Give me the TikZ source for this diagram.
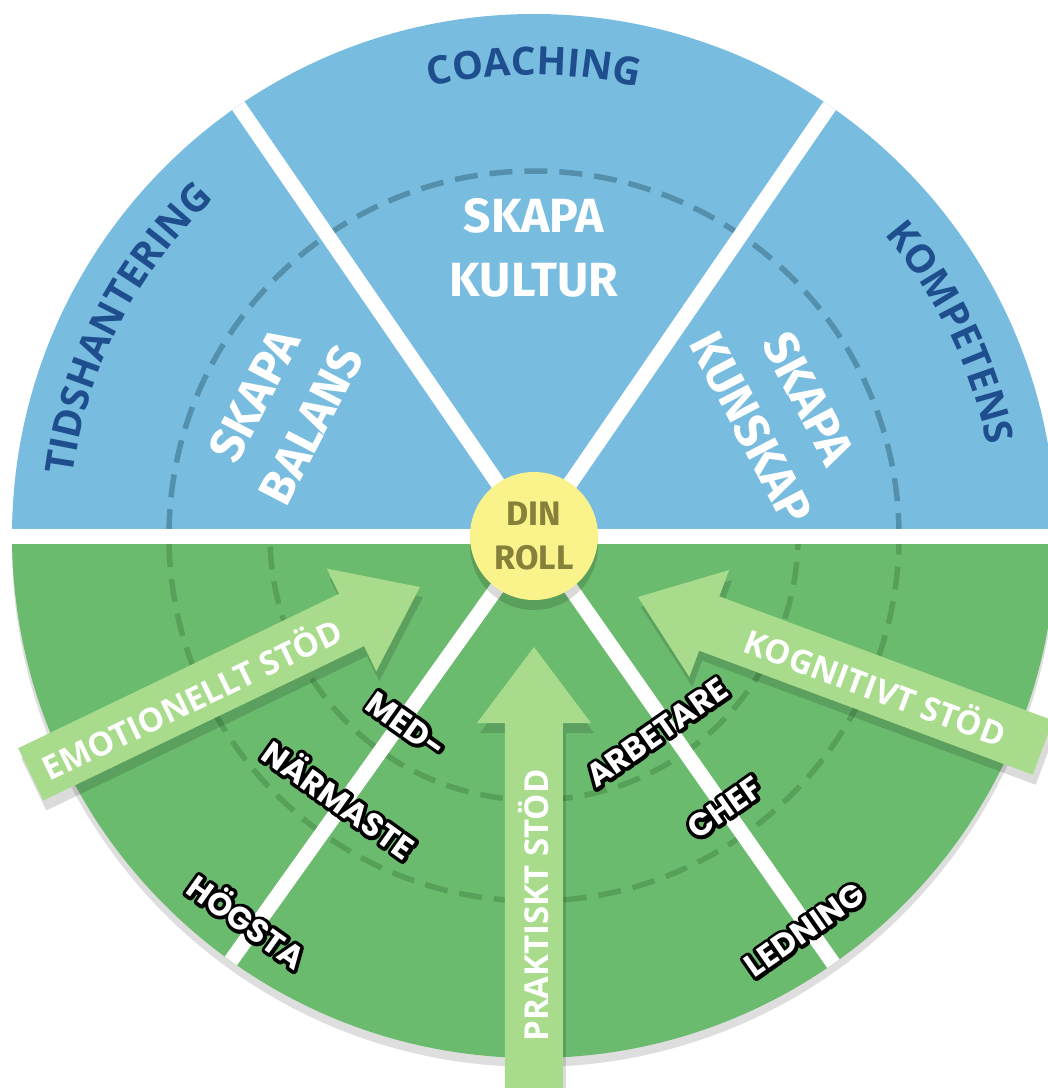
\documentclass[tikz,border=0pt]{standalone}
\usepackage{fontspec}
\usetikzlibrary{decorations.text,calc}
\newfontfamily\osans{Open Sans}
\newfontfamily\fsans{Fira Sans}
\newfontfamily\psans{Poppins}
% the same face, thickened by a stroke, gives the dark rim behind the labels
\newfontfamily\psansink{Poppins}[BoldFeatures={FakeBold=22}]

\definecolor{wheelblue}{RGB}{120,189,223}
\definecolor{wheelgreen}{RGB}{107,187,110}
\definecolor{arrowgreen}{RGB}{168,220,140}
\definecolor{navy}{RGB}{31,78,142}
\definecolor{hubyellow}{RGB}{250,243,140}
\definecolor{hubtext}{RGB}{133,128,58}
\definecolor{dashblue}{RGB}{84,144,172}
\definecolor{dashgreen}{RGB}{86,160,90}

\tikzset{
  divider/.style={white, line width=15pt},
  ringdash/.style={line width=5.5pt, dash pattern=on 23pt off 12pt},
  arrowbody/.style={fill=arrowgreen},
  arrowshade/.style={fill=black, fill opacity=0.14},
  arrowtext/.style={text=white, inner sep=0pt,
    font=\osans\bfseries\fontsize{33}{33}\selectfont},
  rolefont/.style={inner sep=0pt, text=white,
    font=\psans\bfseries\fontsize{32}{32}\selectfont},
  roleink/.style={inner sep=0pt, text=black, line join=round,
    font=\psansink\bfseries\fontsize{32}{32}\selectfont},
  skapa/.style={text=white, align=center, inner sep=0pt,
    font=\fsans\bfseries\fontsize{48}{64}\selectfont},
  rimtext/.style={decorate, decoration={text along path, text align=center,
    text color=navy, text={|\osans\bfseries\fontsize{39}{39}\selectfont|#1}}}
}

% broad support arrow: name, tip, direction, length, text rotation, text
\newcommand\supportarrow[6]{%
  \begin{scope}[shift={(#2)}, shift={(3,-10)}, rotate=#3]
    \fill[arrowshade] (0,0) -- (-76,57) -- (-76,29) -- (-#4,29) -- (-#4,-29)
      -- (-76,-29) -- (-76,-57) -- cycle;
  \end{scope}
  \begin{scope}[shift={(#2)}, rotate=#3]
    \fill[arrowbody] (0,0) -- (-76,57) -- (-76,29) -- (-#4,29) -- (-#4,-29)
      -- (-76,-29) -- (-76,-57) -- cycle;
    \node[arrowtext, rotate=#5] (#1) at ({-(76+#4)/2},0) {#6};
  \end{scope}
}

% white label on a dark rim: name, position, rotation, text
\newcommand\rolelabel[4]{%
  \node[roleink, rotate=#3] (#1-rim) at (#2) {#4};
  \node[rolefont, rotate=#3] (#1) at (#2) {#4};
}

\begin{document}
\begin{tikzpicture}[x=1pt,y=1pt]
\useasboundingbox (-534,-552) rectangle (514,536);
\coordinate (hubc) at (0,0);

% wheel with its soft drop shadow
\fill[black, opacity=0.13] (0,-9) circle[radius=522];
\fill[wheelgreen] (-522,0) arc[start angle=180, end angle=360, radius=522] -- cycle;
\fill[wheelblue] (522,0) arc[start angle=0, end angle=180, radius=522] -- cycle;

% dashed rings
\begin{scope}
  \clip (-530,0) rectangle (530,530);
  \draw[ringdash, dashblue] (hubc) circle[radius=365];
\end{scope}
\begin{scope}
  \clip (-530,0) rectangle (530,-530);
  \draw[ringdash, dashgreen] (hubc) circle[radius=365];
  \draw[ringdash, dashgreen] (hubc) circle[radius=264];
\end{scope}

% white dividers
\coordinate (rimW) at (180:530);
\coordinate (rimE) at (0:530);
\coordinate (rimNE) at (55.5:522);
\coordinate (rimNW) at (124.5:522);
\coordinate (rimSE) at (-55:522);
\coordinate (rimSW) at (-125.5:522);
\draw[divider] (rimW) -- (rimE);
\draw[divider] (hubc) -- (rimNE);
\draw[divider] (hubc) -- (rimNW);
\draw[divider] (hubc) -- (rimSE);
\draw[divider] (hubc) -- (rimSW);

% support arrows
\supportarrow{emo}{-114,-51}{25.7}{432}{25.7}{EMOTIONELLT STÖD}
\supportarrow{kog}{104,-61}{159.6}{432}{-20.4}{KOGNITIVT STÖD}
\supportarrow{prak}{0,-111}{90}{441}{90}{PRAKTISKT STÖD}

% role labels across the lower dividers
\rolelabel{med}{236:228}{-35.5}{MED-}
\rolelabel{narm}{233.5:326}{-35.5}{NÄRMASTE}
\rolelabel{hogsta}{233.3:479}{-35.5}{HÖGSTA}
\rolelabel{arb}{-58:232}{35}{ARBETARE}
\rolelabel{chef}{-54.9:332}{35}{CHEF}
\rolelabel{led}{-55.5:478}{35}{LEDNING}

% hub
\fill[black, opacity=0.15] (0,-10) circle[radius=64];
\node[circle, fill=hubyellow, minimum size=128pt, inner sep=0pt, align=center,
  text=hubtext, font=\fsans\bfseries\fontsize{34}{44}\selectfont] (hub) at (hubc) {DIN\\ROLL};

% sector texts
\node[skapa] (kultur) at (90:288) {SKAPA\\KULTUR};
\node[skapa, rotate=62.5] (balans) at (153.4:281) {SKAPA\\BALANS};
\node[skapa, rotate=-62.5] (kunskap) at (26.5:275) {SKAPA\\KUNSKAP};

% rim texts
\path[rimtext=COACHING] (120:461) arc[start angle=120, end angle=60, radius=461];
\path[rimtext=TIDSHANTERING] (183:465) arc[start angle=183, end angle=123, radius=465];
\path[rimtext=KOMPETENS] (56:462) arc[start angle=56, end angle=-4, radius=462];
\end{tikzpicture}
\end{document}
